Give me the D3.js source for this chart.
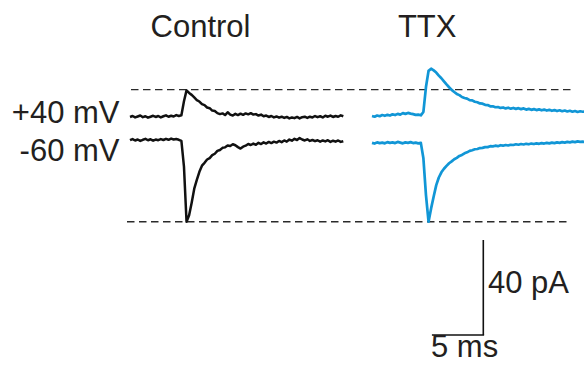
<!DOCTYPE html>
<html>
<head>
<meta charset="utf-8">
<script src="https://cdn.jsdelivr.net/npm/d3@7"></script>
<style>
  html, body { margin: 0; padding: 0; background: #fff; }
  svg { display: block; }
  text { font-family: "Liberation Sans", Arial, Helvetica, sans-serif; fill: #231f20; }
</style>
</head>
<body>
<svg id="chart" width="584" height="370"></svg>
<script>
// ---- data (time in ms, current in pA) ----
const timeMs = [
  0, 0.25, 0.5, 0.75, 1, 1.25, 1.5, 1.75, 2, 2.25, 2.5, 2.75, 3, 3.25, 3.5, 3.75,
  4, 4.25, 4.5, 4.75, 5, 5.25, 5.5, 5.75, 6, 6.25, 6.5, 6.75, 7, 7.25, 7.5, 7.75,
  8, 8.25, 8.5, 8.75, 9, 9.25, 9.5, 9.75, 10, 10.25, 10.5, 10.75, 11, 11.25, 11.5, 11.75,
  12, 12.25, 12.5, 12.75, 13, 13.25, 13.5, 13.75, 14, 14.25, 14.5, 14.75, 15, 15.25, 15.5, 15.75,
  16, 16.25, 16.5, 16.75, 17, 17.25, 17.5, 17.75, 18, 18.25, 18.5, 18.75, 19, 19.25, 19.5, 19.75,
  20, 20.25, 20.5, 20.75
];
const conditions = ["Control", "TTX"];
const holdingLabels = ["+40 mV", "-60 mV"];

const controlPos40 = [
  4.9, 5.3, 4.7, 5.1, 5.5, 4.8, 5.2, 4.6, 5.0, 5.4, 4.9, 5.3, 4.7, 5.2, 5.6, 5.0, 5.4, 5.1, 5.7, 5.3,
  5.6, 11.5, 16.1, 15.0, 14.2, 13.1, 12.0, 11.4, 10.3, 9.9, 8.9, 8.6, 7.6, 7.4, 6.5, 6.1, 6.4, 5.7, 6.9, 5.9, 5.5,
  6.2, 5.7, 6.3, 5.8, 6.4, 6.0, 6.5,
  5.9, 6.1, 5.5, 5.9, 5.2, 5.5, 4.9, 5.3,
  4.7, 5.1, 4.6, 5.0, 4.5, 4.9, 4.3, 4.7,
  4.4, 4.9, 4.3, 4.8, 5.0, 4.5, 5.0, 4.7,
  5.3, 4.8, 5.2, 4.7, 5.4, 5.0, 5.5, 4.9,
  5.3, 5.0, 5.6, 5.2
];
const controlNeg60 = [
  -4.9, -4.4, -5.0, -4.6, -5.2, -4.7, -4.3, -4.9, -4.5, -5.1, -4.6, -4.9, -4.4, -4.8, -4.3, -4.7, -4.2, -4.6, -4.4, -4.7,
  -5.2, -16.0, -39.2, -36.5, -31.2, -25.3, -21.6, -18.2, -15.6, -14.4, -13.0, -12.4, -11.2, -10.6, -9.4, -9.0, -8.1, -7.9, -7.1, -7.3, -6.6,
  -7.0, -7.8, -8.4, -7.6, -7.2, -6.5, -6.9,
  -6.3, -6.8, -6.0, -6.5, -5.8, -6.3, -5.6, -6.1,
  -5.5, -5.9, -5.2, -5.7, -5.0, -5.5, -4.6, -5.1,
  -4.3, -4.8, -4.0, -4.6, -5.0, -4.5, -5.2, -4.8,
  -5.3, -4.9, -5.5, -5.0, -5.4, -4.9, -5.6, -5.1,
  -5.5, -5.0, -5.6, -5.3
];
const ttxPos40 = [
  5.3, 5.0, 5.5, 5.2, 5.7, 5.4, 5.8, 5.5, 6.0, 5.7, 6.2, 5.9, 6.5, 6.2, 6.6, 6.3, 6.1, 5.8, 5.9, 5.6,
  7.0, 17.5, 24.3, 25.2, 24.5, 23.6, 22.3, 21.2, 19.9, 18.6, 17.4, 16.3, 15.4, 14.6, 14.1, 13.3, 12.9, 12.6, 12.0, 11.9, 11.3,
  11.1, 10.6, 10.5, 10.0, 9.9, 9.4, 9.4,
  9.0, 9.1, 8.7, 8.9, 8.5, 8.8, 8.4, 8.7,
  8.3, 8.6, 8.2, 8.5, 8.0, 8.3, 7.9, 8.2,
  7.8, 8.1, 7.7, 8.0, 7.6, 7.9, 7.5, 7.8,
  7.4, 7.7, 7.3, 7.6, 7.2, 7.5, 7.1, 7.4,
  7.0, 7.3, 7.1, 7.2
];
const ttxNeg60 = [
  -6.0, -6.3, -5.8, -6.1, -5.9, -6.2, -5.7, -6.0, -5.8, -6.1, -5.6, -5.9, -6.2, -5.8, -6.0, -5.7, -6.1, -5.9, -6.2, -6.0,
  -12.5, -28.0, -39.2, -33.6, -28.6, -23.8, -20.6, -18.4, -16.9, -15.7, -14.6, -13.8, -12.9, -12.3, -11.5, -11.1, -10.4, -10.0, -9.4, -9.1, -8.7,
  -8.6, -8.2, -8.1, -7.8, -7.8, -7.4, -7.5,
  -7.2, -7.4, -7.0, -7.2, -6.9, -7.1, -6.8, -6.9,
  -6.6, -6.8, -6.5, -6.7, -6.4, -6.6, -6.3, -6.5,
  -6.2, -6.4, -6.1, -6.3, -6.0, -6.2, -5.9, -6.1,
  -5.8, -6.0, -5.7, -5.9, -5.6, -5.8, -5.5, -5.7,
  -5.4, -5.6, -5.5, -5.6
];
const refLevels = [16.4, -39.2];      // dashed reference lines (pA)
const scaleBarMs = 5;
const scaleBarPA = 40;

// ---- layout ----
const svg = d3.select("#chart");
const panelLeft = { "Control": 130, "TTX": 372 };
const colors = { "Control": "#111111", "TTX": "#1196d6" };

const x = d3.scaleLinear().domain([0, 5]).range([0, 51.4]);
const y = d3.scaleLinear().domain([0, 40]).range([128.6, 128.6 - 95]);

const traces = [
  { cond: "Control", values: controlPos40 },
  { cond: "Control", values: controlNeg60 },
  { cond: "TTX", values: ttxPos40 },
  { cond: "TTX", values: ttxNeg60 }
];

// dashed reference lines
const dashExt = [[131, 575], [127, 570]];
refLevels.forEach((lv, i) => {
  svg.append("line")
    .attr("x1", dashExt[i][0]).attr("x2", dashExt[i][1])
    .attr("y1", y(lv)).attr("y2", y(lv))
    .attr("stroke", "#2a2a2a").attr("stroke-width", 1.4)
    .attr("stroke-dasharray", "7.5,4.5");
});

// traces
traces.forEach(tr => {
  const x0 = panelLeft[tr.cond];
  const line = d3.line()
    .x((d, i) => x0 + x(timeMs[i]))
    .y(d => y(d))
    .curve(d3.curveLinear);
  svg.append("path")
    .datum(tr.values)
    .attr("d", line)
    .attr("fill", "none")
    .attr("stroke", colors[tr.cond])
    .attr("stroke-width", tr.cond === "TTX" ? 2.7 : 2.5)
    .attr("stroke-linejoin", "round");
});

// condition titles
const titlePos = { "Control": 200.5, "TTX": 427.2 };
conditions.forEach(c => {
  svg.append("text")
    .attr("x", titlePos[c]).attr("y", 36.7)
    .attr("text-anchor", "middle")
    .attr("font-size", 31)
    .text(c);
});

// holding labels
const holdY = [123.3, 160.7];
holdingLabels.forEach((lab, i) => {
  svg.append("text")
    .attr("x", 119.5).attr("y", holdY[i])
    .attr("text-anchor", "end")
    .attr("font-size", 31)
    .text(lab);
});

// scale bar
const sbX = 483.3, sbY = 335;
svg.append("line")
  .attr("x1", sbX).attr("x2", sbX)
  .attr("y1", sbY).attr("y2", sbY - (y(0) - y(scaleBarPA)))
  .attr("stroke", "#111").attr("stroke-width", 1.6);
svg.append("line")
  .attr("x1", sbX - (x(scaleBarMs) - x(0))).attr("x2", sbX + 0.8)
  .attr("y1", sbY).attr("y2", sbY)
  .attr("stroke", "#111").attr("stroke-width", 1.6);
svg.append("text")
  .attr("x", 488).attr("y", 293.3)
  .attr("font-size", 31)
  .text(scaleBarPA + " pA");
svg.append("text")
  .attr("x", 431).attr("y", 356.7)
  .attr("font-size", 31)
  .text(scaleBarMs + " ms");
</script>
</body>
</html>
